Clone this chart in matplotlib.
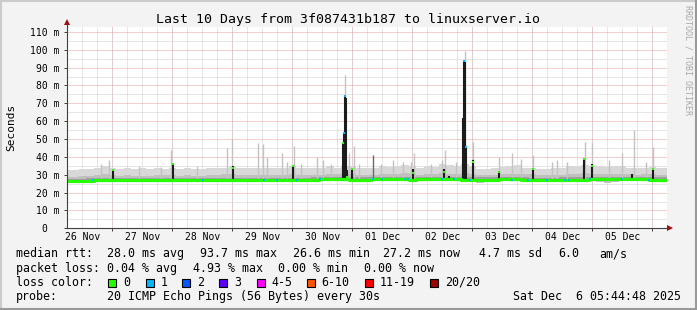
import matplotlib
matplotlib.use('Agg')
import matplotlib.pyplot as plt
from matplotlib.patches import Rectangle
from matplotlib.lines import Line2D
import numpy as np

#%%============================================================================
# data (hours since 26 Nov 2025 00:00, values in ms)
#==============================================================================
hours = np.arange(6, 247, 3)

median = [26.5, 26.5, 26.5, 26.6, 27.0, 27.0,
          27.0, 27.0, 27.1, 27.0, 27.0, 27.0, 27.1, 27.0,
          27.0, 27.0, 27.0, 27.0, 27.0, 27.0, 27.0, 27.1,
          27.0, 27.0, 27.0, 27.1, 27.0, 27.0, 27.0, 27.0,
          27.0, 27.0, 27.1, 27.2, 27.4, 27.6, 27.6, 27.5,
          27.3, 27.2, 27.3, 27.5, 27.6, 27.6, 27.7, 27.6,
          27.3, 27.5, 27.6, 27.5, 27.5, 27.6, 27.5, 27.3,
          27.2, 27.3, 27.3, 27.3, 27.4, 27.5, 27.5, 27.3,
          27.0, 27.0, 27.1, 27.1, 27.2, 27.3, 27.3, 27.3,
          27.4, 27.4, 27.5, 27.5, 27.6, 27.5, 27.6, 27.4,
          27.2, 27.2, 27.2]

smoke_lo = [25.8, 25.8, 25.9, 26.0, 26.2, 26.1,
            26.2, 26.2, 26.3, 26.1, 26.2, 26.2, 26.3, 26.2,
            26.1, 26.2, 26.2, 26.1, 26.2, 26.2, 26.3, 26.2,
            26.1, 26.2, 26.2, 26.3, 26.1, 26.2, 26.2, 26.1,
            26.2, 26.2, 26.3, 26.4, 26.5, 26.7, 26.6, 26.5,
            26.3, 26.2, 26.4, 26.5, 26.6, 26.6, 26.7, 26.5,
            26.3, 26.4, 26.6, 26.4, 26.5, 26.6, 26.5, 26.2,
            25.8, 25.6, 26.0, 26.2, 26.4, 26.5, 26.5, 26.3,
            26.0, 26.0, 26.1, 26.0, 26.1, 26.2, 26.2, 26.3,
            26.3, 26.0, 25.6, 25.8, 26.5, 26.4, 26.5, 26.3,
            26.2, 26.2, 26.2]

smoke_mid = [29.0, 29.0, 29.2, 29.4, 29.8, 30.5,
             30.0, 29.5, 29.6, 29.4, 29.5, 29.4, 29.8, 29.6,
             30.0, 29.5, 29.6, 29.4, 29.5, 29.6, 29.8, 30.2,
             30.5, 29.6, 29.8, 29.6, 29.8, 29.6, 29.8, 29.8,
             30.5, 30.0, 29.8, 30.0, 29.8, 30.4, 30.2, 30.8,
             30.6, 30.0, 29.8, 30.0, 30.4, 30.4, 30.6, 30.8,
             30.6, 30.0, 30.4, 30.2, 30.8, 30.6, 30.4, 30.8,
             30.6, 29.6, 29.6, 29.8, 30.2, 30.4, 30.6, 30.2,
             30.2, 29.6, 29.6, 29.8, 30.0, 30.4, 30.6, 30.8,
             30.6, 30.6, 30.4, 30.4, 30.4, 30.2, 30.0, 30.4,
             30.4, 30.0, 30.0]

smoke_hi = [32.5, 32.5, 33.0, 33.0, 33.5, 35.0,
            34.0, 33.0, 33.5, 33.0, 33.5, 33.0, 34.0, 33.0,
            34.0, 33.0, 33.5, 33.0, 33.0, 33.5, 33.5, 34.0,
            35.0, 33.5, 34.0, 33.5, 34.0, 33.5, 34.0, 33.5,
            35.0, 34.0, 33.5, 34.0, 33.5, 35.0, 34.0, 35.0,
            35.0, 34.0, 33.5, 34.0, 35.0, 34.5, 35.0, 35.5,
            35.0, 34.0, 35.0, 34.5, 36.0, 35.5, 35.0, 36.0,
            35.0, 33.0, 33.0, 33.5, 34.5, 35.0, 35.5, 34.0,
            34.0, 33.0, 33.0, 33.5, 34.0, 35.0, 35.0, 35.5,
            35.0, 35.0, 34.5, 35.0, 35.0, 34.0, 34.0, 34.0,
            34.5, 34.0, 34.0]

# single outlier pings (light smoke)
light_spike_h = [19.3, 22.5, 34.5, 43.3, 47.3, 57.7, 69.7, 71.7, 82.1, 84.1,
                 85.7, 91.7, 93.7, 96.5, 99.3, 105.7, 108.1, 111.3, 117.0,
                 118.5, 120.5, 122.5, 131.3, 136.1, 140.1, 143.3, 144.5,
                 151.3, 155.7, 156.9, 161.3, 164.9, 168.1, 178.5, 183.7,
                 187.3, 192.1, 199.7, 201.7, 205.7, 212.9, 215.7, 222.5,
                 227.7, 232.5, 237.3, 240.1]
light_spike_top = [36.0, 38.0, 35.0, 34.5, 43.8, 35.0, 45.0, 50.0, 48.0, 47.0,
                   40.0, 42.0, 37.0, 46.0, 36.0, 40.0, 38.0, 36.0, 86.0,
                   42.0, 46.0, 36.0, 36.0, 38.0, 37.0, 37.0, 42.0,
                   36.0, 38.0, 44.0, 37.0, 99.5, 48.5, 40.0, 42.0,
                   39.0, 41.0, 37.0, 38.0, 37.0, 48.5, 47.7, 38.0,
                   42.0, 55.0, 37.0, 45.7]

# dense smoke columns
dark_spike_h = [24.1, 48.1, 72.1, 96.1, 116.1, 116.5, 116.9, 117.3, 117.9,
                119.7, 144.1, 156.5, 158.5, 164.1, 164.5, 164.9, 165.3,
                168.1, 178.5, 192.1, 212.5, 215.7, 231.7, 240.1]
dark_spike_top = [33.0, 36.8, 35.0, 35.5, 48.0, 54.0, 74.0, 73.0, 32.7,
                  33.5, 33.0, 33.0, 29.5, 62.0, 93.7, 93.0, 45.0,
                  38.0, 32.0, 33.5, 39.5, 36.0, 30.5, 34.0]

# lone mid-grey trace on 01 Dec
grey_line_h = [128.1]
grey_line_top = [41.0]

# median samples on the spikes
spike_med_h = [24.1, 48.1, 72.1, 96.1, 116.1, 117.9, 119.7, 144.1, 156.5,
               168.1, 178.5, 192.1, 212.5, 215.7, 240.1]
spike_med_val = [32.5, 36.0, 34.0, 35.0, 47.6, 29.0, 33.0, 31.0, 31.5,
                 37.3, 31.5, 33.0, 39.0, 35.0, 33.0]

# samples with 1/20 lost
loss1_h = [16.4, 60.4, 84.7, 89.8, 97.8, 107.2, 116.5, 116.9, 128.1, 131.8,
           141.2, 142.2, 155.8, 160.5, 164.7, 165.3, 167.2, 183.8, 190.2,
           197.8, 205.2, 206.5, 215.2, 227.8, 238.5]
loss1_val = [26.8, 27.0, 27.0, 27.0, 27.0, 27.5, 53.6, 74.0, 27.4, 27.4,
             27.5, 27.5, 27.6, 27.5, 93.7, 45.7, 27.2, 27.2, 27.2,
             27.0, 27.1, 27.2, 27.4, 27.5, 27.2]

day_labels = ['26 Nov', '27 Nov', '28 Nov', '29 Nov', '30 Nov',
              '01 Dec', '02 Dec', '03 Dec', '04 Dec', '05 Dec']
y_ticks = [0, 10, 20, 30, 40, 50, 60, 70, 80, 90, 100, 110]

rtt_text = ['median rtt:', '28.0 ms avg', '93.7 ms max', '26.6 ms min',
            '27.2 ms now', '4.7 ms sd', '6.0', 'am/s']
loss_text = ['packet loss:', '0.04 % avg', '4.93 % max', '0.00 % min',
             '0.00 % now']
loss_labels = ['0', '1', '2', '3', '4-5', '6-10', '11-19', '20/20']
loss_colors = ['#26ff00', '#00b8ff', '#0059ff', '#5e00ff', '#ff00ff',
               '#ff5500', '#ff0000', '#a10000']
probe_text = ['probe:', '20 ICMP Echo Pings (56 Bytes) every 30s',
              'Sat Dec  6 05:44:48 2025']
title = 'Last 10 Days from 3f087431b187 to linuxserver.io'

#%%============================================================================
# figure
#==============================================================================
W, H = 697, 310
MONO = 'DejaVu Sans Mono'
plt.rcParams['font.family'] = MONO

fig = plt.figure(figsize=(W / 100, H / 100), dpi=100, facecolor='#f3f3f3')
x0, y_bot, pw, ph = 66.7, 228.3, 600.0, 201.0
ax = fig.add_axes([x0 / W, (H - y_bot) / H, pw / W, ph / H], facecolor='white')
ax.set_xlim(5.75, 245.75)
ax.set_ylim(0, 112.6)

# grid
ax.set_yticks(y_ticks)
ax.set_yticklabels([f'{v} m' if v else '0  ' for v in y_ticks])
ax.set_yticks(np.arange(5, 115, 10), minor=True)
ax.set_xticks(np.arange(24, 246, 24))
ax.set_xticklabels([])
ax.set_xticks(np.arange(6, 246, 6), minor=True)
ax.xaxis.remove_overlapping_locs = False
dots = (0, (1, 1))
ax.grid(which='minor', color='#cfcfcf', lw=0.72, ls=dots)
ax.grid(which='major', color='#eaa0a0', lw=0.72, ls=dots)
ax.set_axisbelow(True)
ax.tick_params(which='major', length=2, width=0.7, color='#404040', pad=3,
               labelsize=7, labelcolor='#000000')
ax.tick_params(which='minor', length=0)
for s in ['top', 'right']:
    ax.spines[s].set_visible(False)
for s in ['left', 'bottom']:
    ax.spines[s].set_color('#404040')
    ax.spines[s].set_linewidth(0.8)

# day labels sit at noon
for i, lab in enumerate(day_labels):
    ax.text(i * 24 + 12, -9 / ph, lab, transform=ax.get_xaxis_transform(),
            ha='center', va='center', fontsize=7)

# smoke
ax.fill_between(hours, smoke_lo, smoke_hi, step='mid', color='#d8d8d8', lw=0)
ax.fill_between(hours, smoke_lo, smoke_mid, step='mid', color='#c0c0c0', lw=0)
ax.fill_between(hours, np.array(median) - 0.3, np.array(median) + 1.3,
                step='mid', color='#9e9e9e', lw=0)
base_l = np.interp(light_spike_h, hours, median)
ax.vlines(light_spike_h, base_l, light_spike_top, color='#c2c2c2', lw=1.0)
base_g = np.interp(grey_line_h, hours, median)
ax.vlines(grey_line_h, base_g, grey_line_top, color='#6a6a6a', lw=1.0)
base_d = np.interp(dark_spike_h, hours, median)
ax.vlines(dark_spike_h, base_d, dark_spike_top, color='#1c1c1c', lw=1.5)

# median coloured by loss
ax.step(hours, median, where='mid', color=loss_colors[0], lw=2.3)
ax.plot(spike_med_h, spike_med_val, 's', color=loss_colors[0], ms=1.8, mew=0)
ax.plot(loss1_h, loss1_val, 's', color=loss_colors[1], ms=1.9, mew=0)

# axis arrows
ax.plot([0, 0], [1.0, 1.027], transform=ax.transAxes, color='#404040',
        lw=0.8, clip_on=False)
ax.plot([1.0, 1.006], [0, 0], transform=ax.transAxes, color='#404040',
        lw=0.8, clip_on=False)
ax.plot(0, 1.027, marker='^', color='#a01010', ms=4.5, mew=0,
        transform=ax.transAxes, clip_on=False)
ax.plot(1.006, 0, marker='>', color='#a01010', ms=4.5, mew=0,
        transform=ax.transAxes, clip_on=False)

# texts
def fy(y):
    return 1 - y / H

fig.text(348.5 / W, fy(19), title, ha='center', va='center', fontsize=9.5)
fig.text(11 / W, fy(127), 'Seconds', rotation=90, ha='center', va='center',
         fontsize=8)
fig.text(688 / W, fy(60), 'RRDTOOL / TOBI OETIKER', rotation=270,
         ha='center', va='center', fontsize=6, color='#a8a8a8')

FS = 8.4
rtt_x = [16, 107.3, 200, 293.3, 383.3, 479.3, 558.3, 599.3]
for s, x in zip(rtt_text, rtt_x):
    fig.text(x / W, fy(253.8), s, va='center', fontsize=FS)
loss_x = [16, 107.3, 192.7, 278.3, 364]
for s, x in zip(loss_text, loss_x):
    fig.text(x / W, fy(268.5), s, va='center', fontsize=FS)
fig.text(16 / W, fy(282.3), 'loss color:', va='center', fontsize=FS)
box_x = [108.3, 145.7, 181.7, 219.3, 256.7, 306.7, 365, 430]
for lab, col, x in zip(loss_labels, loss_colors, box_x):
    fig.add_artist(Rectangle((x / W, fy(286.5)), 8 / W, 8 / H, facecolor=col,
                             edgecolor='black', lw=0.8,
                             transform=fig.transFigure))
    fig.text((x + 15) / W, fy(282.3), lab, va='center', fontsize=FS)
fig.text(16 / W, fy(296.5), probe_text[0], va='center', fontsize=FS)
fig.text(107.3 / W, fy(296.5), probe_text[1], va='center', fontsize=FS)
fig.text(681 / W, fy(296.5), probe_text[2], va='center', ha='right',
         fontsize=FS)

# 3d frame
for xs, ys, c in [([0, 1], [0.998, 0.998], '#cbcbcb'),
                  ([0.0015, 0.0015], [0, 1], '#cbcbcb'),
                  ([0, 1], [0.003, 0.003], '#999999'),
                  ([0.9985, 0.9985], [0, 1], '#999999')]:
    fig.add_artist(Line2D(xs, ys, color=c, lw=1.5, transform=fig.transFigure))

fig.savefig('out.png', dpi=100, facecolor=fig.get_facecolor())
